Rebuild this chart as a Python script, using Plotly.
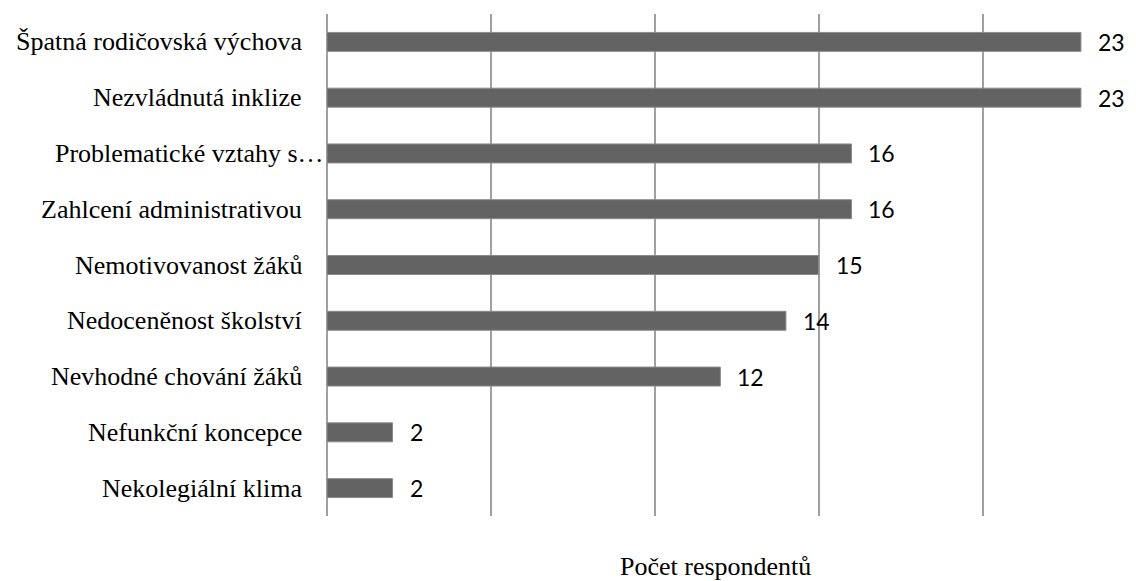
import plotly.graph_objects as go

categories = [
    "Špatná rodičovská výchova",
    "Nezvládnutá inklize",
    "Problematické vztahy s…",
    "Zahlcení administrativou",
    "Nemotivovanost žáků",
    "Nedoceněnost školství",
    "Nevhodné chování žáků",
    "Nefunkční koncepce",
    "Nekolegiální klima",
]
values = [23, 23, 16, 16, 15, 14, 12, 2, 2]
axis_title = "Počet respondentů"

W, H = 1136, 581
L, R, T, B = 326.5, 0, 14, 65
px_per_unit = 32.8
xmax = (W - L - R) / px_per_unit

fig = go.Figure()
fig.add_trace(go.Bar(
    x=values, y=categories, orientation="h",
    width=0.34,
    marker=dict(color="#636363", line=dict(color="#8a8a8a", width=1)),
    hoverinfo="skip",
))

annotations = []
for c, v in zip(categories, values):
    annotations.append(dict(
        x=v, y=c, xref="x", yref="y", text=str(v), showarrow=False,
        xanchor="left", yanchor="middle", xshift=15,
        font=dict(family="Lato", size=23, color="#000000"),
    ))
    truncated = c.endswith("…")
    annotations.append(dict(
        x=0, y=c, xref="x", yref="y", text=c, showarrow=False,
        xanchor="right", yanchor="middle", xshift=-1 if truncated else -23,
        font=dict(family="Liberation Serif", size=26, color="#000000"),
    ))
annotations.append(dict(
    x=(715 - L) / (W - L - R), y=-0.1, xref="paper", yref="paper",
    text=axis_title, showarrow=False, xanchor="center", yanchor="middle",
    font=dict(family="Liberation Serif", size=26, color="#000000"),
))

fig.update_layout(
    width=W, height=H,
    margin=dict(l=L, r=R, t=T, b=B, pad=0),
    paper_bgcolor="white", plot_bgcolor="white",
    showlegend=False,
    annotations=annotations,
    xaxis=dict(
        range=[0, xmax], dtick=5, tick0=0,
        showgrid=True, gridcolor="#a0a0a0", gridwidth=1.5,
        zeroline=True, zerolinecolor="#a0a0a0", zerolinewidth=1.5,
        showticklabels=False, ticks="", showline=False,
    ),
    yaxis=dict(
        autorange="reversed", showticklabels=False, ticks="",
        showgrid=False, showline=False, zeroline=False,
        categoryorder="array", categoryarray=categories,
    ),
)

fig.write_html("out.html")
